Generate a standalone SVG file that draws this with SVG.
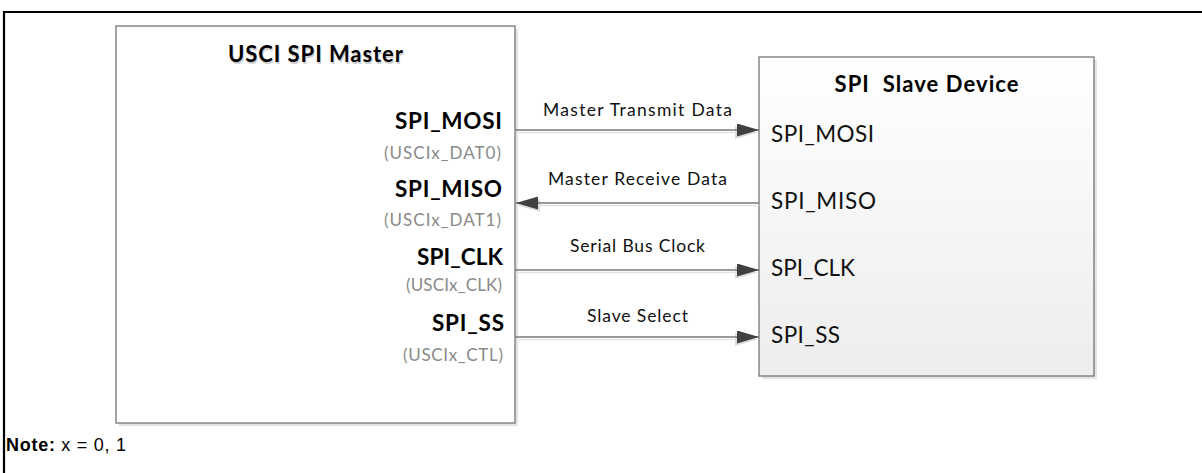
<svg xmlns="http://www.w3.org/2000/svg" width="1202" height="473" viewBox="0 0 1202 473">
<style>
  .box { stroke:#6a6a6a; stroke-width:1.2; }
  .shadow { fill:#e4e4e4; }
  .title { font-family:Lato, "Open Sans", sans-serif; font-weight:bold; font-size:22px; fill:#000; text-anchor:middle; white-space:pre; }
  .tshadow { fill:#d0d0d0; }
  .pin { font-family:Lato, "Open Sans", sans-serif; font-weight:bold; font-size:22.5px; fill:#000; text-anchor:end; }
  .sub { font-family:Lato, "Open Sans", sans-serif; font-size:17px; fill:#8a8a8a; text-anchor:end; }
  .spin { font-family:Lato, "Open Sans", sans-serif; font-size:22.5px; fill:#111; }
  .lbl { font-family:Lato, "Open Sans", sans-serif; font-size:17.5px; fill:#111; text-anchor:middle; }
  .wire { stroke:#7a7a7a; stroke-width:1.5; fill:none; }
  .wshadow { stroke:#e2e2e2; stroke-width:1.5; fill:none; }
  .note { font-family:"Liberation Sans", Arial, sans-serif; font-size:18px; fill:#000; }
</style>
<defs>
  <linearGradient id="slaveGrad" x1="0" y1="0" x2="0" y2="1">
    <stop offset="0" stop-color="#ffffff"/>
    <stop offset="1" stop-color="#ededed"/>
  </linearGradient>
  <marker id="arrow" markerUnits="userSpaceOnUse" markerWidth="22" markerHeight="13" refX="22" refY="6.5" orient="auto">
    <path d="M0,0 L22,6.5 L0,13 Z" fill="#404040"/>
  </marker>
  <marker id="arrowShadow" markerUnits="userSpaceOnUse" markerWidth="22" markerHeight="13" refX="22" refY="6.5" orient="auto">
    <path d="M0,0 L22,6.5 L0,13 Z" fill="#dcdcdc"/>
  </marker>
</defs>

<rect x="0" y="0" width="1202" height="473" fill="#ffffff"/>
<g id="frame">
  <line x1="3" y1="12" x2="1202" y2="12" stroke="#000" stroke-width="2.2"/>
  <line x1="4" y1="11" x2="4" y2="473" stroke="#000" stroke-width="2.2"/>
</g>

<g id="master">
  <rect class="shadow" x="119" y="29" width="399" height="397"/>
  <rect class="box" x="116" y="26" width="399" height="397" fill="#ffffff"/>
  <text class="title tshadow" x="316.5" y="64" textLength="175">USCI SPI Master</text>
  <text class="title" x="315.5" y="62" textLength="175">USCI SPI Master</text>
  <text class="pin" x="502" y="129" textLength="107">SPI_MOSI</text>
  <text class="sub" x="501" y="159" textLength="117">(USCIx_DAT0)</text>
  <text class="pin" x="502" y="197" textLength="107">SPI_MISO</text>
  <text class="sub" x="501" y="226" textLength="117">(USCIx_DAT1)</text>
  <text class="pin" x="503" y="265" textLength="86">SPI_CLK</text>
  <text class="sub" x="502" y="291" textLength="96">(USCIx_CLK)</text>
  <text class="pin" x="504" y="331" textLength="72">SPI_SS</text>
  <text class="sub" x="503" y="361" textLength="100">(USCIx_CTL)</text>
</g>

<g id="slave">
  <rect class="shadow" x="762" y="60" width="335" height="319"/>
  <rect class="box" x="759" y="57" width="335" height="319" fill="url(#slaveGrad)"/>
  <text class="title" x="926.5" y="92" textLength="184">SPI  Slave Device</text>
  <text class="spin" x="771" y="142" textLength="103">SPI_MOSI</text>
  <text class="spin" x="771" y="209" textLength="105">SPI_MISO</text>
  <text class="spin" x="771" y="276" textLength="84">SPI_CLK</text>
  <text class="spin" x="771" y="343" textLength="69">SPI_SS</text>
</g>

<g id="connectors">
  <line class="wshadow" x1="517" y1="132.5" x2="757" y2="132.5" marker-end="url(#arrowShadow)"/>
  <line class="wshadow" x1="759" y1="205.5" x2="518" y2="205.5" marker-end="url(#arrowShadow)"/>
  <line class="wshadow" x1="517" y1="272.5" x2="757" y2="272.5" marker-end="url(#arrowShadow)"/>
  <line class="wshadow" x1="517" y1="339.5" x2="757" y2="339.5" marker-end="url(#arrowShadow)"/>

  <line class="wire" x1="515" y1="130" x2="759" y2="130" marker-end="url(#arrow)"/>
  <line class="wire" x1="759" y1="203" x2="516" y2="203" marker-end="url(#arrow)"/>
  <line class="wire" x1="515" y1="270" x2="759" y2="270" marker-end="url(#arrow)"/>
  <line class="wire" x1="515" y1="337" x2="759" y2="337" marker-end="url(#arrow)"/>

  <text class="lbl" x="637.5" y="116" textLength="189">Master Transmit Data</text>
  <text class="lbl" x="637.5" y="185" textLength="179">Master Receive Data</text>
  <text class="lbl" x="637.5" y="252" textLength="135">Serial Bus Clock</text>
  <text class="lbl" x="637.5" y="322" textLength="101">Slave Select</text>
</g>

<g id="note">
  <text class="note" x="6" y="451" textLength="120"><tspan font-weight="bold">Note:</tspan> x = 0, 1</text>
</g>
</svg>
